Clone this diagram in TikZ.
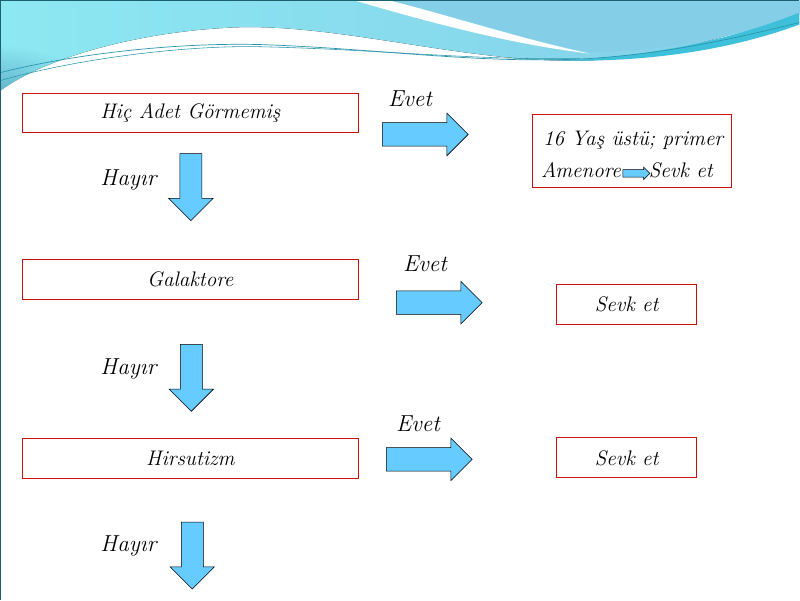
\documentclass[tikz,border=0pt]{standalone}
\usepackage{fontspec}
\usetikzlibrary{shapes.arrows, fadings}
\definecolor{okmavi}{HTML}{66CCFF}
\definecolor{kutukirmizi}{HTML}{CC1111}
\definecolor{dalgaA}{HTML}{8CE8F2}
\definecolor{dalgaB}{HTML}{84CEE8}
\definecolor{dalgaC}{HTML}{5AAAC4}
\definecolor{dalgaD}{HTML}{3EC0DA}
\definecolor{cizgi}{HTML}{2A96AC}
\definecolor{kenar}{HTML}{1E5F6E}
\tikzfading[name=yuvarlak, inner color=transparent!0, outer color=transparent!100]
\newcommand{\bant}{(0,0) -- (800,0) -- (800,12) .. controls (700,45) and (640,62) .. (560,60) .. controls (450,58) and (330,22) .. (230,27) .. controls (130,32) and (40,60) .. (0,90) -- cycle}
\tikzset{
  kutu/.style={draw=kutukirmizi, line width=0.7pt, inner sep=0pt},
  yazi/.style={font=\fontsize{15}{18}\selectfont\itshape},
  etiket/.style={font=\fontsize{16.5}{18}\selectfont\itshape},
  blok/.style={single arrow, draw=black, fill=okmavi, line width=0.4pt, inner xsep=0pt,
    single arrow tip angle=90, anchor=tail},
  sagok/.style={blok, minimum height=2.15cm, inner ysep=0.2875cm, single arrow head extend=0.2375cm},
  asagiok/.style={blok, rotate=-90, minimum height=1.675cm, inner ysep=0.26875cm, single arrow head extend=0.28cm},
}
\begin{document}
\begin{tikzpicture}[x=0.025cm, y=-0.025cm, yazi]
	% arka plan ve ust dalga
	\fill[white] (0,0) rectangle (800,600);
	\fill[left color=dalgaA, right color=dalgaB] \bant;
	\begin{scope}
		\clip \bant;
		\fill[dalgaC, path fading=yuvarlak] (0,100) ellipse [x radius=90, y radius=55];
	\end{scope}
	\fill[dalgaB] (385,0) .. controls (470,20) and (530,40) .. (590,52) .. controls (680,50) and (760,30) .. (800,14) -- (800,0) -- cycle;
	\fill[white] (355,0) .. controls (440,25) and (520,45) .. (590,53) .. controls (520,38) and (450,15) .. (390,0) -- cycle;
	\fill[dalgaD] (560,60) .. controls (660,56) and (740,36) .. (800,12) -- (800,24) .. controls (740,46) and (660,62) .. (560,60) -- cycle;
	\draw[cizgi, line width=0.5pt] (0,72) .. controls (80,52) and (180,42) .. (260,44) .. controls (380,48) and (480,64) .. (590,58) .. controls (680,52) and (750,34) .. (800,22);
	\draw[cizgi, line width=0.4pt] (0,80) .. controls (70,60) and (170,46) .. (250,46) .. controls (370,48) and (470,60) .. (580,58);
	\draw[kenar, line width=0.9pt] (0,600) -- (0,0) -- (800,0);

	% kutular
	\node[kutu, minimum width=8.4cm, minimum height=0.975cm] (hic) at (190,112.5) {Hiç Adet Görmemiş};
	\node[kutu, minimum width=8.4cm, minimum height=1cm] (gal) at (190,279) {Galaktore};
	\node[kutu, minimum width=8.4cm, minimum height=1cm] (hir) at (190,459) {Hirsutizm};
	\node[kutu, minimum width=4.975cm, minimum height=1.825cm] (yas) at (632.5,150.5) {};
	\node[kutu, minimum width=3.5cm, minimum height=1cm] (sevkA) at (627,304) {Sevk et};
	\node[kutu, minimum width=3.5cm, minimum height=1cm] (sevkB) at (627,458) {Sevk et};

	% ilk kutunun yazilari
	\node[anchor=base west, inner sep=0pt] (primer) at (543,145) {16 Yaş üstü; primer};
	\node[anchor=base west, inner sep=0pt] (amen) at (541,177) {Amenore};
	\node[anchor=base west, inner sep=0pt] (sevk0) at (649,177) {Sevk et};
	\node[blok, minimum height=0.675cm, inner ysep=0.0875cm, single arrow head extend=0.0625cm] (kucukok) at (623,173) {};

	% evet oklari
	\node[sagok] (okA) at (382,134) {};
	\node[sagok] (okB) at (396,302.5) {};
	\node[sagok] (okC) at (386,459.5) {};
	\node[etiket] (evetA) at (410,98) {Evet};
	\node[etiket] (evetB) at (425,264) {Evet};
	\node[etiket] (evetC) at (418,424) {Evet};

	% hayir oklari
	\node[asagiok] (asA) at (190.5,153) {};
	\node[asagiok] (asB) at (191,344) {};
	\node[asagiok] (asC) at (192,522) {};
	\node[etiket] (hayirA) at (128,180) {Hayır};
	\node[etiket] (hayirB) at (128,369) {Hayır};
	\node[etiket] (hayirC) at (128,546) {Hayır};
\end{tikzpicture}
\end{document}
